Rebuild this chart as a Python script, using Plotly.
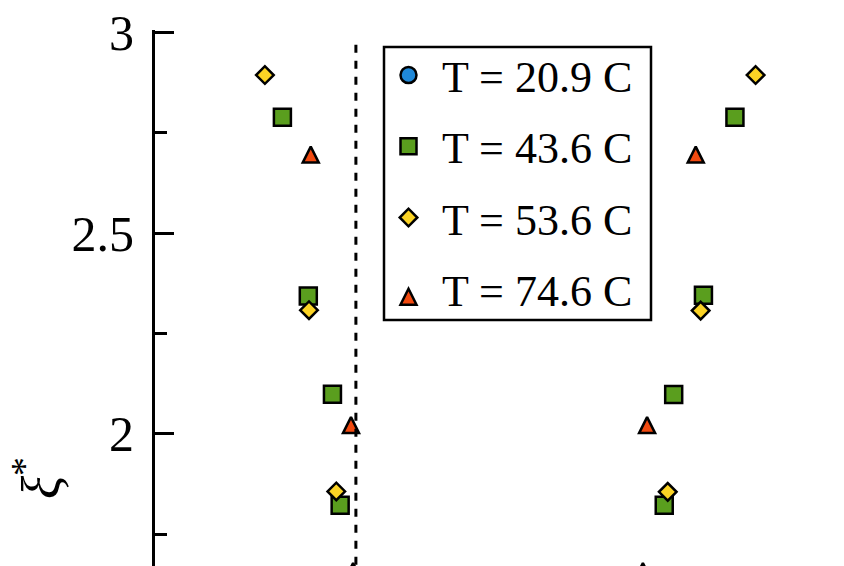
import plotly.graph_objects as go

# ---- data ----
series_names = ["T = 20.9 C", "T = 43.6 C", "T = 53.6 C", "T = 74.6 C"]

x_209 = []
y_209 = []

x_436 = [-0.636, -0.562, -0.493, -0.471, 0.657, 0.567, 0.482, 0.455]
y_436 = [2.788, 2.343, 2.099, 1.823, 2.788, 2.345, 2.098, 1.823]

x_536 = [-0.686, -0.560, -0.482, 0.716, 0.559, 0.465]
y_536 = [2.893, 2.308, 1.857, 2.893, 2.307, 1.856]

x_746 = [-0.555, -0.440, -0.434, 0.545, 0.406, 0.394]
y_746 = [2.715, 2.042, 1.679, 2.715, 2.042, 1.679]

dash_x = -0.426
dash_y = [2.968, 1.5]

ytick_vals = [2, 2.5, 3]
ytick_text = ["2", "2.5", "3"]
yminor_vals = [1.75, 2.25, 2.75]

colors = ["#1f88d8", "#5a9e1e", "#fbd325", "#f24a10"]

FONT = "Liberation Serif"

# the page adds an 8px body margin; figure is sized so that it still fills the window
OFF = 8
W, H = 844 - OFF, 566 - OFF
ML, MT = 155 - OFF, 30 - OFF
PW, PH = W - ML, H - MT


def px_to_paper_x(px):  # px in window coordinates
    return (px - OFF - ML) / PW


def px_to_paper_y(py):
    return 1 - (py - OFF - MT) / PH


fig = go.Figure()

series = [
    (x_209, y_209, "circle", 16),
    (x_436, y_436, "square", 17),
    (x_536, y_536, "diamond", 13.5),
    (x_746, y_746, "arrow-up", 16),
]
for i, (xs, ys, sym, sz) in enumerate(series):
    fig.add_trace(go.Scatter(
        x=xs if xs else [None], y=ys if ys else [None], mode="markers", name=series_names[i],
        legendgroup=f"g{i}",
        marker=dict(symbol=sym, size=sz, color=colors[i],
                    line=dict(color="black", width=2.5)),
    ))

fig.add_shape(type="line", xref="x", yref="y",
              x0=dash_x, x1=dash_x, y0=dash_y[0], y1=dash_y[1],
              line=dict(color="black", width=3, dash="8px,8px"))

# legend frame
fig.add_shape(type="rect", xref="paper", yref="paper",
              x0=px_to_paper_x(384), x1=px_to_paper_x(651),
              y0=px_to_paper_y(320), y1=px_to_paper_y(47),
              line=dict(color="black", width=2.5), fillcolor="white", layer="above")

fig.add_annotation(text="<i>ξ</i><sup>*</sup>", textangle=-90,
                   xref="paper", yref="paper", x=px_to_paper_x(37), y=px_to_paper_y(478),
                   xanchor="center", yanchor="middle",
                   showarrow=False, font=dict(family=FONT, size=54, color="black"))

fig.update_layout(
    width=W, height=H,
    margin=dict(l=ML, r=0, t=MT, b=0, autoexpand=False),
    plot_bgcolor="white", paper_bgcolor="white",
    font=dict(family=FONT, color="black"),
    showlegend=True,
    legend=dict(x=px_to_paper_x(375), y=px_to_paper_y(40), xanchor="left", yanchor="top",
                bgcolor="rgba(0,0,0,0)", borderwidth=0,
                font=dict(family=FONT, size=44, color="black"),
                tracegroupgap=11, itemwidth=57, traceorder="grouped"),
    xaxis=dict(visible=False, range=[-1.0, 0.9686]),
    yaxis=dict(range=[1.6716, 3.005], showgrid=False, zeroline=False, automargin=False,
               showline=True, linecolor="black", linewidth=3,
               ticks="inside", ticklen=19, tickwidth=3, tickcolor="black",
               tickvals=ytick_vals, ticktext=ytick_text,
               tickfont=dict(family=FONT, size=50, color="black"),
               ticklabelstandoff=8, ticklabeloverflow="allow",
               minor=dict(ticks="inside", ticklen=12, tickwidth=3, tickcolor="black",
                          tickvals=yminor_vals)),
)

fig.write_html("out.html")
